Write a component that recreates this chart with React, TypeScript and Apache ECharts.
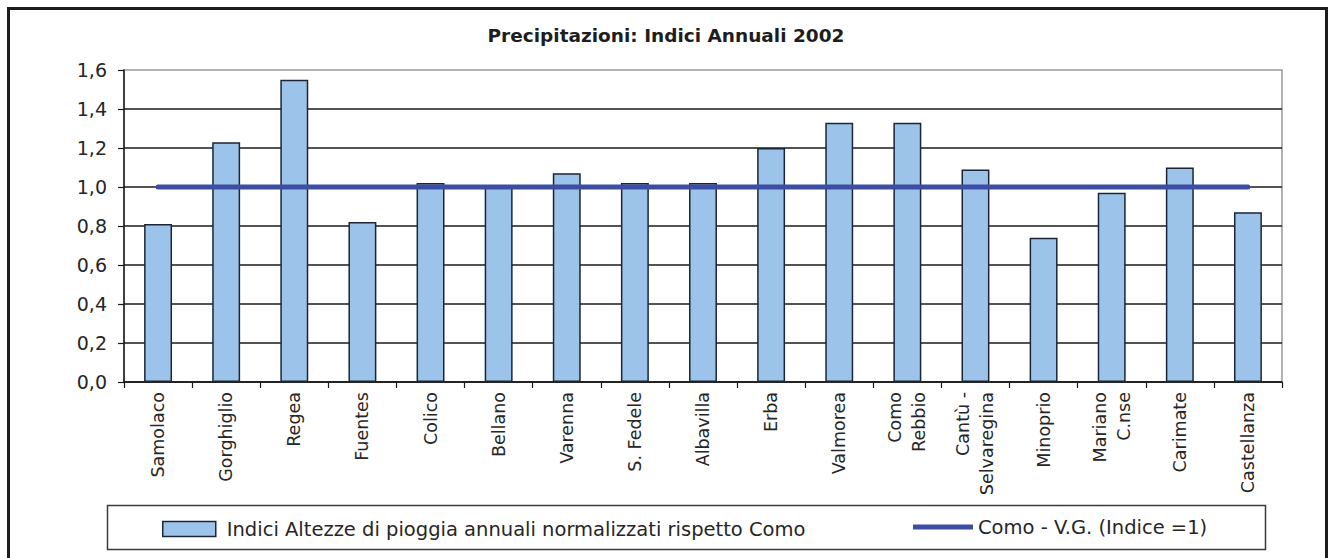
import React, { useEffect, useRef } from "react";
import * as echarts from "echarts";

// Stations along the category axis (multi-line names wrap as in the printed report)
const stations: string[] = [
  "Samolaco",
  "Gorghiglio",
  "Regea",
  "Fuentes",
  "Colico",
  "Bellano",
  "Varenna",
  "S. Fedele",
  "Albavilla",
  "Erba",
  "Valmorea",
  "Como\nRebbio",
  "Cantù -\nSelvaregina",
  "Minoprio",
  "Mariano\nC.nse",
  "Carimate",
  "Castellanza",
];

// Annual rainfall index, normalised against Como
const rainIndex: number[] = [
  0.81, 1.23, 1.55, 0.82, 1.02, 1.0, 1.07, 1.02, 1.02, 1.2, 1.33, 1.33, 1.09,
  0.74, 0.97, 1.1, 0.87,
];

// Reference station Como - V.G. (index = 1 everywhere)
const comoReference: number[] = [
  1, 1, 1, 1, 1, 1, 1, 1, 1, 1, 1, 1, 1, 1, 1, 1, 1,
];

const TITLE = "Precipitazioni: Indici Annuali 2002";
const BAR_NAME = "Indici Altezze di pioggia annuali normalizzati rispetto Como";
const LINE_NAME = "Como - V.G. (Indice =1)";

const FONT = "DejaVu Sans";
const TEXT = "#262626";
const BAR_FILL = "#9cc4ea";
const BAR_EDGE = "#1b2535";
const LINE_COLOR = "#3c4da3";

export default function App() {
  const ref = useRef<HTMLDivElement | null>(null);

  useEffect(() => {
    if (!ref.current) return;
    const chart = echarts.init(ref.current, undefined, { renderer: "svg" });

    chart.setOption({
      animation: false,
      backgroundColor: "#ffffff",
      textStyle: { fontFamily: FONT },
      title: {
        text: TITLE,
        left: 661,
        textAlign: "center",
        top: 21,
        textStyle: {
          fontFamily: FONT,
          fontSize: 18.5,
          fontWeight: "bold",
          color: "#1e1e1e",
        },
      },
      graphic: [
        {
          type: "rect",
          shape: { x: 8.5, y: 8.5, width: 1318, height: 580 },
          style: { fill: "none", stroke: "#1c1c1c", lineWidth: 3 },
          silent: true,
        },
        {
          type: "rect",
          shape: { x: 107.5, y: 505.5, width: 1158, height: 44 },
          style: { fill: "#ffffff", stroke: "#3a3a3a", lineWidth: 1.5 },
          silent: true,
          z: -1,
        },
      ],
      legend: [
        {
          data: [
            {
              name: BAR_NAME,
              icon: "rect",
              itemStyle: {
                color: BAR_FILL,
                borderColor: BAR_EDGE,
                borderWidth: 1.5,
              },
            },
          ],
          left: 162,
          top: 519,
          itemWidth: 53,
          itemHeight: 15,
          padding: 0,
          textStyle: {
            fontFamily: FONT,
            fontSize: 19.5,
            color: TEXT,
            lineHeight: 15,
            padding: [0, 0, 0, 6],
          },
        },
        {
          data: [
            {
              name: LINE_NAME,
              icon: "rect",
              itemStyle: { color: LINE_COLOR, borderWidth: 0 },
            },
          ],
          left: 913,
          top: 517,
          itemWidth: 60,
          itemHeight: 5,
          padding: 0,
          textStyle: {
            fontFamily: FONT,
            fontSize: 19.5,
            color: TEXT,
            lineHeight: 5,
          },
        },
      ],
      grid: {
        left: 124,
        right: 47,
        top: 70,
        bottom: 176,
        show: true,
        backgroundColor: "#ffffff",
        borderColor: "#9a9a9a",
        borderWidth: 1.5,
      },
      xAxis: {
        type: "category",
        data: stations,
        boundaryGap: true,
        axisLine: { show: true, lineStyle: { color: "#1a1a1a", width: 1.5 } },
        axisTick: {
          show: true,
          length: 6,
          lineStyle: { color: "#1a1a1a", width: 1.2 },
        },
        axisLabel: {
          interval: 0,
          rotate: 90,
          margin: 10,
          fontFamily: FONT,
          fontSize: 17.5,
          lineHeight: 24,
          color: TEXT,
        },
        splitLine: { show: false },
      },
      yAxis: {
        type: "value",
        min: 0,
        max: 1.6,
        interval: 0.2,
        axisLine: { show: true, lineStyle: { color: "#1a1a1a", width: 1.5 } },
        axisTick: {
          show: true,
          length: 6,
          lineStyle: { color: "#1a1a1a", width: 1.2 },
        },
        axisLabel: {
          margin: 17,
          fontFamily: FONT,
          fontSize: 19,
          color: TEXT,
          formatter: (v: number) => v.toFixed(1).replace(".", ","),
        },
        splitLine: {
          show: true,
          showMaxLine: false,
          lineStyle: { color: "#1a1a1a", width: 1.5 },
        },
      },
      series: [
        {
          name: BAR_NAME,
          type: "bar",
          data: rainIndex,
          barWidth: "41%",
          itemStyle: {
            color: BAR_FILL,
            borderColor: BAR_EDGE,
            borderWidth: 1.5,
          },
        },
        {
          name: LINE_NAME,
          type: "line",
          data: comoReference,
          symbol: "none",
          lineStyle: { color: LINE_COLOR, width: 5, cap: "round" },
          itemStyle: { color: LINE_COLOR },
          z: 3,
        },
      ],
    });

    return () => {
      chart.dispose();
    };
  }, []);

  return (
    <div
      ref={ref}
      style={{
        position: "absolute",
        left: 0,
        top: 0,
        width: 1329,
        height: 558,
      }}
    />
  );
}
